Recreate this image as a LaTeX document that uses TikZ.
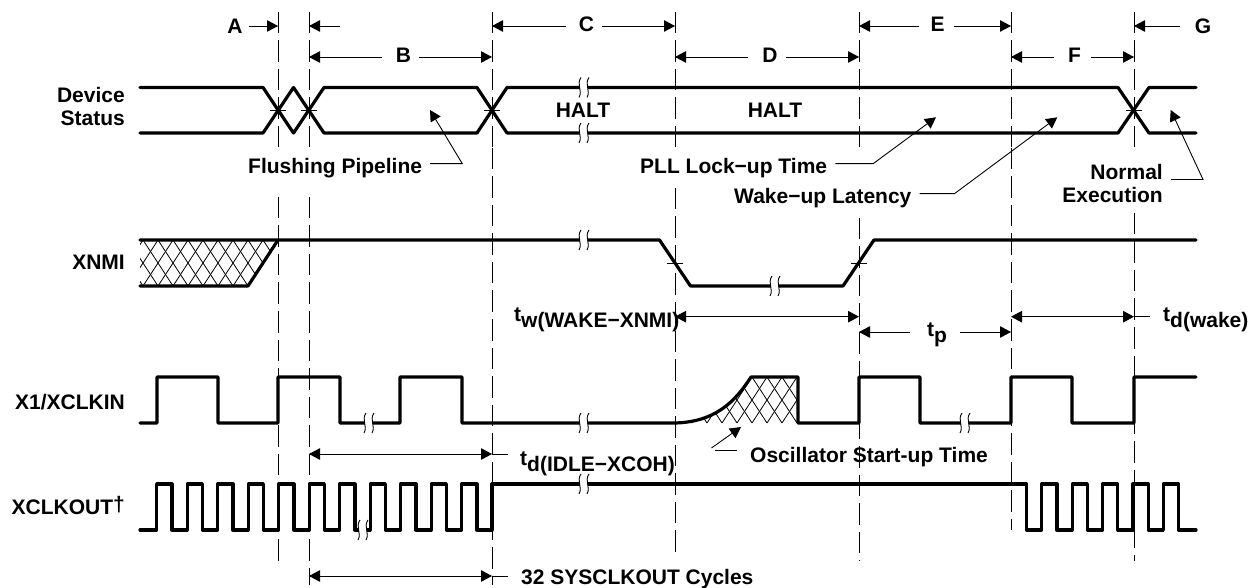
\documentclass[tikz,border=0pt]{standalone}
\usepackage{fontspec}
\setmainfont{Liberation Sans}
\usetikzlibrary{arrows.meta}

\begin{document}
\begin{tikzpicture}[
  x=1pt, y=-1pt,
  every node/.style={font=\bfseries\fontsize{21}{23}\selectfont, inner sep=0pt},
  tag/.style={text height=15pt, text depth=3pt},
  wave/.style={line width=3.2pt, line cap=round, line join=round},
  guide/.style={line width=1pt, dash pattern=on 21.5pt off 7pt},
  hatch/.style={line width=0.8pt},
  lead/.style={line width=0.9pt},
  arr/.style={line width=0.9pt, -{Triangle[length=11pt,width=11.5pt]}},
  dbl/.style={line width=0.9pt, {Triangle[length=11pt,width=11.5pt]}-{Triangle[length=11pt,width=11.5pt]}}
]
\useasboundingbox (0,0) rectangle (1251,588);

%% Guide lines
\foreach \gx/\ya/\yb/\yc in {278/148/197/562, 309/148/197/585, 492/148/148/585,
                             675/148/188/553, 859/148/218/561, 1011/148/148/530,
                             1134/148/213/561}
  \draw[guide] (\gx,12) -- (\gx,\ya) (\gx,\yb) -- (\gx,\yc);

\coordinate (ga) at (278,26);  \coordinate (gb) at (309,26);
\coordinate (gc) at (492,26);  \coordinate (gd) at (675,26);
\coordinate (ge) at (859,26);  \coordinate (gf) at (1011,26);
\coordinate (gg) at (1134,26);
\coordinate (hb) at (309,57);  \coordinate (hc) at (492,57);
\coordinate (hd) at (675,57);  \coordinate (he) at (859,57);
\coordinate (hf) at (1011,57); \coordinate (hg) at (1134,57);

%% Letters along the top
\node (lblA) at (235,26) {A};
\node[tag] (lblC) at (586.5,26) {C};
\node[tag] (lblE) at (937.5,26) {E};
\node (lblG) at (1203,26) {G};
\node[tag] (lblB) at (403.5,57) {B};
\node[tag] (lblD) at (770,57) {D};
\node[tag] (lblF) at (1074.5,57) {F};

\draw[arr] ([xshift=6pt]lblA.east) -- (ga);
\draw[arr] ([xshift=31pt]gb) -- (gb);
\draw[arr] ([xshift=-13pt]lblC.west) -- (gc);
\draw[arr] ([xshift=8pt]lblC.east) -- (gd);
\draw[arr] ([xshift=-11pt]lblE.west) -- (ge);
\draw[arr] ([xshift=9pt]lblE.east) -- (gf);
\draw[arr] ([xshift=-15pt]lblG.west) -- (gg);
\draw[arr] ([xshift=-14pt]lblB.west) -- (hb);
\draw[arr] ([xshift=8pt]lblB.east) -- (hc);
\draw[arr] ([xshift=-14pt]lblD.west) -- (hd);
\draw[arr] ([xshift=8pt]lblD.east) -- (he);
\draw[arr] ([xshift=-14pt]lblF.west) -- (hf);
\draw[arr] ([xshift=10pt]lblF.east) -- (hg);

%% Signal names
\node[anchor=east, align=right] (lblDev) at (125,106.5) {Device\\Status};
\node[anchor=base east] (lblXnmi) at (125,270) {XNMI};
\node[anchor=base east] (lblXone) at (125,409) {X1/XCLKIN};
\node[anchor=base east] (lblXout) at (125,514.5) {XCLKOUT\raisebox{3pt}{†}};

%% Hatched parts
\begin{scope}
  \clip (140,240) -- (278,240) -- (248,286) -- (140,286) -- cycle;
  \foreach \hx in {98,113,...,290}
    \draw[hatch] (\hx,240) -- (\hx+30,286) (\hx+30,240) -- (\hx,286);
\end{scope}
\begin{scope}
  \clip (675,423) .. controls (715,422) and (735,402) .. (751,377)
        -- (798,377) -- (798,423) -- cycle;
  \foreach \hx in {647,662,...,797}
    \draw[hatch] (\hx,377) -- (\hx+30,423) (\hx+30,377) -- (\hx,423);
\end{scope}

%% Device Status
\draw[wave] (140,87.5) -- (263,87.5) -- (293.5,133) -- (324,87.5) -- (477,87.5)
  -- (507,133) -- (1118,133) -- (1149,87.5) -- (1196,87.5);
\draw[wave] (140,133) -- (263,133) -- (293.5,87.5) -- (324,133) -- (477,133)
  -- (507,87.5) -- (1118,87.5) -- (1149,133) -- (1196,133);

%% XNMI
\draw[wave] (140,240) -- (659.5,240) -- (690.5,286) -- (843,286) -- (874,240) -- (1196,240);
\draw[wave] (140,286) -- (248,286) -- (278,240);

%% X1/XCLKIN
\draw[wave] (140,423) -- (157,423) -- (157,377) -- (218,377) -- (218,423)
  -- (278,423) -- (278,377) -- (340,377) -- (340,423) -- (400,423) -- (400,377)
  -- (462,377) -- (462,423) -- (675,423)
  .. controls (715,422) and (735,402) .. (751,377)
  -- (798,377) -- (798,423) -- (859,423) -- (859,377) -- (920,377) -- (920,423)
  -- (1011,423) -- (1011,377) -- (1072,377) -- (1072,423) -- (1134,423)
  -- (1134,377) -- (1196,377);

%% XCLKOUT
\draw[wave] (140,530)
  \foreach \cx in {156.7,187.2,...,462}
    { -- (\cx,530) -- (\cx,484) -- (\cx+15.2,484) -- (\cx+15.2,530) }
  -- (492,530) -- (492,484) -- (1026.7,484) -- (1026.7,530)
  \foreach \cx in {1041.7,1072.1,...,1166}
    { -- (\cx,530) -- (\cx,484) -- (\cx+15.2,484) -- (\cx+15.2,530) }
  -- (1196,530);

%% Crossing marks
\foreach \mx/\my in {278/110, 309/110, 492/110, 1134/110, 675/263, 859/263}
  \draw[lead] (\mx-8,\my) -- (\mx+8,\my);

%% Breaks in the traces
\foreach \bx/\by in {584/87.5, 584/133, 584/240, 775/286, 369/423, 584/423,
                     965/423, 363/530, 584/484}{
  \fill[white] (\bx-4,\by-2.5) rectangle (\bx+4,\by+2.5);
  \draw[lead] (\bx-3,\by-10) .. controls (\bx-8,\by-3) and (\bx-1,\by+3) .. (\bx-5,\by+10);
  \draw[lead] (\bx+5,\by-10) .. controls (\bx,\by-3) and (\bx+7,\by+3) .. (\bx+3,\by+10);
}

%% State labels
\node (lblHaltA) at (583,110.5) {HALT};
\node (lblHaltB) at (775,110.5) {HALT};

\coordinate (tipFlush) at (430,110);
\coordinate (tipLock) at (936,117.3);
\coordinate (tipWake) at (1057.3,117.3);
\coordinate (tipNorm) at (1170.7,110);
\coordinate (tipOsc) at (741,427);

\node[anchor=base west] (lblFlush) at (248,174) {Flushing Pipeline};
\node[anchor=base west] (lblLock) at (640,174) {PLL Lock−up Time};
\node[anchor=base west] (lblWake) at (734,204) {Wake−up Latency};
\node[anchor=east, align=right] (lblNorm) at (1163,183.5) {Normal\\Execution};
\node[anchor=base west] (lblOsc) at (750,462.7) {Oscillator Start-up Time};

\draw[arr] ([shift={(8,-5)}]lblFlush.east) -- ++(32,0) -- (tipFlush);
\draw[arr] ([shift={(8,-5)}]lblLock.east) -- ++(38,0) -- (tipLock);
\draw[arr] ([shift={(8,-5)}]lblWake.east) -- ++(35,0) -- (tipWake);
\draw[arr] ([shift={(8,-4)}]lblNorm.east) -- ++(32,0) -- (tipNorm);
\draw[lead] ([shift={(-13,-7)}]lblOsc.west) -- ++(-22,0);
\draw[arr] (711.5,448) -- (tipOsc);

%% Timing parameters
\node[anchor=base west] (lblTw) at (514,321.5) {t\raisebox{-6pt}{w(WAKE−XNMI)}};
\node[anchor=base west] (lblTp) at (927,336.5) {t\raisebox{-6pt}{p}};
\node[anchor=base west] (lblTdw) at (1163,321.5) {t\raisebox{-6pt}{d(wake)}};
\node[anchor=base west] (lblTdi) at (520,465) {t\raisebox{-6pt}{d(IDLE−XCOH)}};
\node[anchor=base west] (lblCyc) at (521,584) {32 SYSCLKOUT Cycles};

\coordinate (twa) at (675,316.7);  \coordinate (twb) at (859,316.7);
\coordinate (tpa) at (859,332);    \coordinate (tpb) at (1011,332);
\coordinate (tda) at (1011,316.7); \coordinate (tdb) at (1134,316.7);
\coordinate (tia) at (309,454);    \coordinate (tib) at (492,454);
\coordinate (cya) at (309,576);    \coordinate (cyb) at (492,576);

\draw[dbl] (twa) -- (twb);
\draw[dbl] (tda) -- (tdb);
\draw[lead] (tdb) -- ++(15.5,0);
\draw[dbl] (tia) -- (tib);
\draw[lead] (tib) -- ++(15.5,0);
\draw[dbl] (cya) -- (cyb);
\draw[lead] (cyb) -- ++(15.5,0);
\draw[arr] ([xshift=51pt]tpa) -- (tpa);
\draw[arr] ([xshift=-51pt]tpb) -- (tpb);

\end{tikzpicture}
\end{document}
